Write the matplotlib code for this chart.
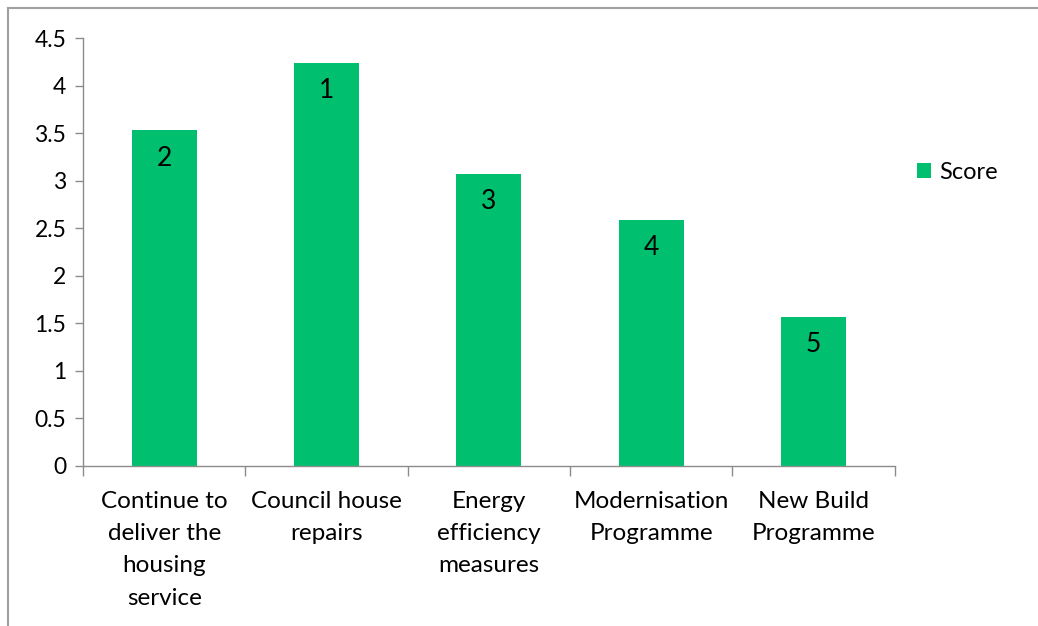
import matplotlib
matplotlib.use("Agg")
import matplotlib.pyplot as plt
from matplotlib.lines import Line2D
from matplotlib.patches import Patch


# ==========================================
# Data
# ==========================================

categories = [
    "Continue to\ndeliver the\nhousing\nservice",
    "Council house\nrepairs",
    "Energy\nefficiency\nmeasures",
    "Modernisation\nProgramme",
    "New Build\nProgramme",
]

scores = [3.53, 4.24, 3.07, 2.59, 1.57]

ranks = ["2", "1", "3", "4", "5"]

y_ticks = [0, 0.5, 1, 1.5, 2, 2.5, 3, 3.5, 4, 4.5]
y_tick_labels = ["0", "0.5", "1", "1.5", "2", "2.5", "3", "3.5", "4", "4.5"]


# ==========================================
# Figure
# ==========================================

plt.rcParams["font.family"] = ["Lato", "DejaVu Sans"]

bar_color = "#00BF6F"
axis_color = "#8C8C8C"

fig = plt.figure(figsize=(10.38, 6.26), dpi=100)

ax = fig.add_axes([0.080, 0.2556, 0.782, 0.6834])

x = list(range(len(categories)))

ax.bar(x, scores, width=0.4, color=bar_color, label="Score")

for xi, val, r in zip(x, scores, ranks):
    ax.annotate(
        r,
        (xi, val),
        xytext=(0, -20),
        textcoords="offset points",
        ha="center",
        va="center",
        fontsize=19,
        color="black"
    )

ax.set_xlim(-0.5, len(categories) - 0.5)
ax.set_ylim(0, 4.5)

ax.set_yticks(y_ticks)
ax.set_yticklabels(y_tick_labels, fontsize=16.5)

ax.set_xticks(x)
ax.set_xticklabels(categories, fontsize=17.5, linespacing=1.66)
ax.set_xticks([i - 0.5 for i in range(len(categories) + 1)], minor=True)

ax.tick_params(axis="x", which="major", length=0, pad=18)
ax.tick_params(axis="x", which="minor", length=7, color=axis_color, width=1)
ax.tick_params(axis="y", length=6, color=axis_color, width=1, pad=6)

for s in ["top", "right"]:
    ax.spines[s].set_visible(False)
for s in ["left", "bottom"]:
    ax.spines[s].set_color(axis_color)
    ax.spines[s].set_linewidth(1)


# ==========================================
# Legend
# ==========================================

handles = [Patch(facecolor=bar_color, label="Score")]
fig.legend(
    handles=handles,
    loc="center left",
    bbox_to_anchor=(0.863, 0.725),
    frameon=False,
    fontsize=17,
    handlelength=0.6,
    handleheight=0.6,
    handletextpad=0.35
)


# ==========================================
# Outer frame
# ==========================================

fig.add_artist(Line2D([0.0075, 0.0075], [0, 0.988], color="#A0A0A0", lw=1.5,
                      transform=fig.transFigure))
fig.add_artist(Line2D([0.0075, 1.0], [0.988, 0.988], color="#A0A0A0", lw=1.5,
                      transform=fig.transFigure))

fig.savefig("out.png", dpi=100)
